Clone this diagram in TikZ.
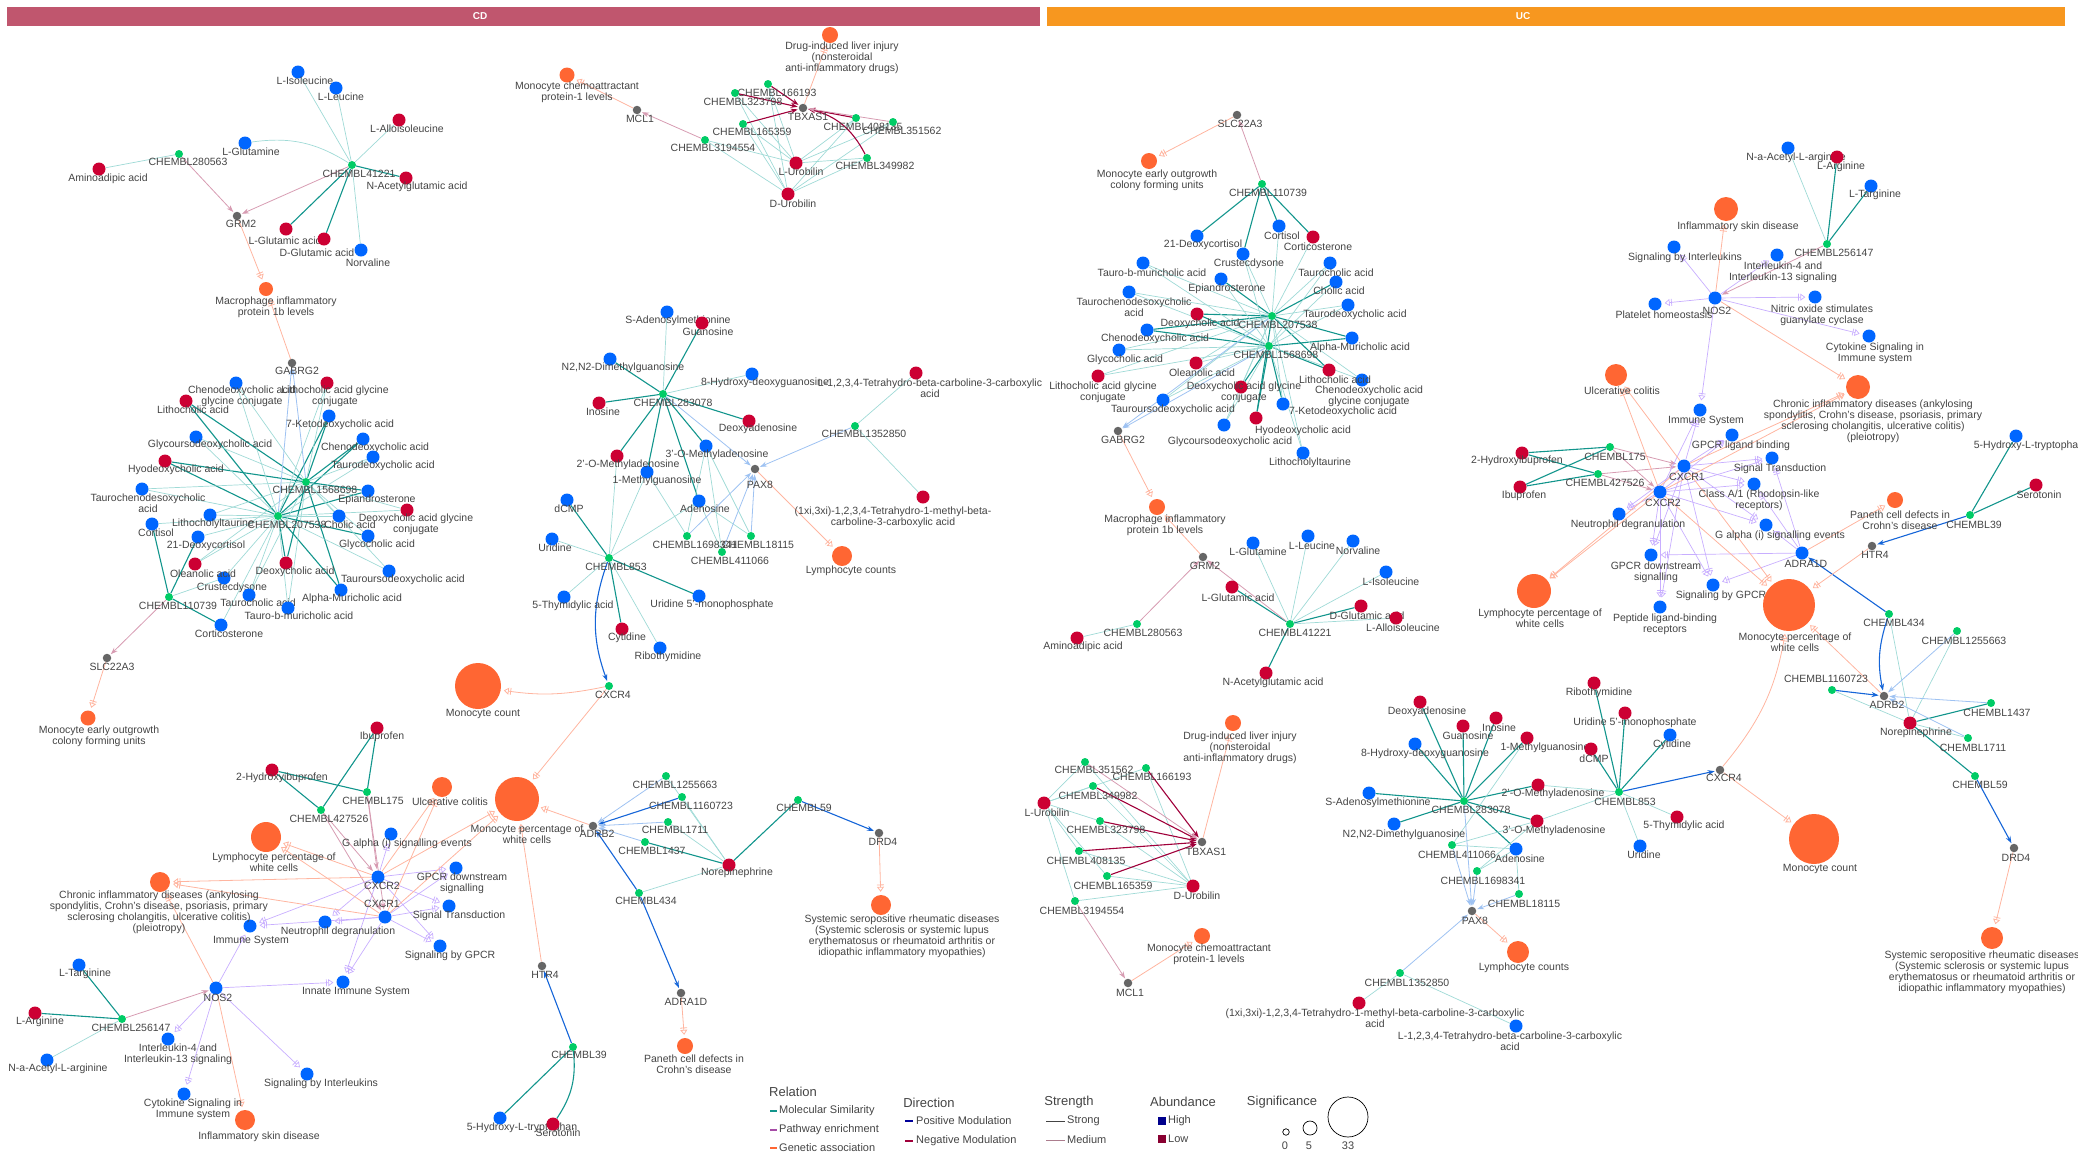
\documentclass[tikz,border=0pt]{standalone}
\usepackage{fontspec}
\setmainfont{Liberation Sans}
\usetikzlibrary{arrows.meta}
\pgfdeclarelayer{bg}
\pgfsetlayers{bg,main}

\definecolor{hiC}{HTML}{0066FF}
\definecolor{loC}{HTML}{CC0033}
\definecolor{cmpdC}{HTML}{00CC66}
\definecolor{geneC}{HTML}{666666}
\definecolor{traitC}{HTML}{FF6633}
\definecolor{txtC}{HTML}{444444}
\definecolor{cdC}{HTML}{C0566E}
\definecolor{ucC}{HTML}{F7971F}
\definecolor{simSC}{HTML}{12958C}
\definecolor{simMC}{HTML}{9FDAD6}
\definecolor{pathC}{HTML}{C8AEFF}
\definecolor{genC}{HTML}{FFB5A0}
\definecolor{posSC}{HTML}{1565D8}
\definecolor{posMC}{HTML}{9EC2F2}
\definecolor{negSC}{HTML}{A0003A}
\definecolor{negMC}{HTML}{D79CB2}

\tikzset{hi/.style={circle,fill=hiC,inner sep=0,minimum size=13pt}}
\tikzset{lo/.style={circle,fill=loC,inner sep=0,minimum size=13pt}}
\tikzset{cmpd/.style={circle,fill=cmpdC,inner sep=0,minimum size=8pt}}
\tikzset{gene/.style={circle,fill=geneC,inner sep=0,minimum size=8.5pt}}
\tikzset{trait/.style={circle,fill=traitC,inner sep=0,minimum size=#1}}
\tikzset{lbl/.style={text=txtC,font=\fontsize{10.5}{11}\selectfont,align=center,inner sep=0}}
\tikzset{hdr/.style={inner sep=0,minimum height=19pt}}
\tikzset{hdrtxt/.style={font=\bfseries\fontsize{10}{10}\selectfont,text=white,inner sep=0}}
\tikzset{sim/.style={draw=simSC,line width=1.1pt}}
\tikzset{simw/.style={draw=simMC,line width=0.7pt}}
\tikzset{pway/.style={draw=pathC,line width=0.7pt,-{Bar[width=7pt,sep=1.5pt]Triangle[open,length=5pt,width=7pt]},shorten >=3pt}}
\tikzset{gass/.style={draw=genC,line width=0.8pt,-{Bar[width=7pt,sep=1.5pt]Triangle[open,length=5pt,width=7pt]},shorten >=3pt}}
\tikzset{up/.style={draw=posSC,line width=1.1pt,-{Stealth[length=7pt,width=5pt]},shorten >=1pt}}
\tikzset{upw/.style={draw=posMC,line width=0.8pt,-{Stealth[length=7pt,width=5pt]},shorten >=1pt}}
\tikzset{dn/.style={draw=negSC,line width=1.1pt,-{Stealth[length=7pt,width=5pt]},shorten >=1pt}}
\tikzset{dnw/.style={draw=negMC,line width=0.8pt,-{Stealth[length=7pt,width=5pt]},shorten >=1pt}}
\tikzset{lgt/.style={text=txtC,font=\fontsize{13}{13}\selectfont,inner sep=0}}
\tikzset{lgi/.style={text=txtC,font=\fontsize{11}{11}\selectfont,inner sep=0,anchor=west}}

\begin{document}
\begin{tikzpicture}[x=1pt,y=-1pt]
\useasboundingbox (0,0) rectangle (2078,1157);

% panel headers
\node[hdr,fill=cdC,minimum width=1033pt] (cdbar) at (523.5,16.5) {};
\node[hdrtxt] (cdtxt) at (480,16.5) {CD};
\node[hdr,fill=ucC,minimum width=1018pt] (ucbar) at (1556,16.5) {};
\node[hdrtxt] (uctxt) at (1523,16.5) {UC};

% high abundance
\foreach \nm/\xy/\lxy/\tx in {
  cLIso/{298,72}/{305,81}/{L-Isoleucine}, cLLeu/{336,88}/{341,97}/{L-Leucine},
  cLGln/{245,143}/{251,152}/{L-Glutamine}, cNorv/{361,250}/{368,263}/{Norvaline},
  cSAM/{667,312}/{678,321}/{S-Adenosylmethionine}, cN2N2/{610,359}/{623,368}/{N2,N2-Dimethylguanosine},
  c8OH/{752,374}/{765,383}/{8-Hydroxy-deoxyguanosine}, c3OM/{706,446}/{717,455}/{3'-O-Methyladenosine},
  c1MG/{647,472}/{657,481}/{1-Methylguanosine}, cdCMP/{567,500}/{569,509}/{dCMP},
  cAden/{699,501}/{705,509}/{Adenosine}, cUri/{552,539}/{555,548}/{Uridine},
  c5TA/{564,597}/{573,606}/{5-Thymidylic acid}, cU5MP/{699,596}/{712,605}/{Uridine 5'-monophosphate},
  cRibo/{660,648}/{668,657}/{Ribothymidine},
  cChenoGly/{236,383}/{242,396}/{Chenodeoxycholic acid\\glycine conjugate},
  c7Keto/{329,416}/{340,425}/{7-Ketodeoxycholic acid}, cGlycoUrso/{196,437}/{210,445}/{Glycoursodeoxycholic acid},
  cCheno/{363,439}/{375,448}/{Chenodeoxycholic acid}, cTauroDeoxy/{373,457}/{383,466}/{Taurodeoxycholic acid},
  cTauroCheno/{142,489}/{148,503}/{Taurochenodesoxycholic\\acid}, cEpi/{368,491}/{377,500}/{Epiandrosterone},
  cLithoTaur/{210,515}/{213,524}/{Lithocholyltaurine}, cCholic/{339,516}/{350,525}/{Cholic acid},
  cCortisol/{152,524}/{156,533}/{Cortisol}, c21Deoxy/{198,537}/{206,546}/{21-Deoxycortisol},
  cGlyco/{368,536}/{377,545}/{Glycocholic acid}, cTauroUrso/{389,571}/{403,580}/{Tauroursodeoxycholic acid},
  cCrust/{224,578}/{232,588}/{Crustecdysone}, cTaurocholic/{249,595}/{258,603}/{Taurocholic acid},
  cAlpha/{341,590}/{352,599}/{Alpha-Muricholic acid}, cTauroB/{288,608}/{299,616}/{Tauro-b-muricholic acid},
  cCortico/{221,625}/{229,634}/{Corticosterone},
  cGalpha/{391,834}/{407,844}/{G alpha (i) signalling events}, cCXCR2/{378,877}/{382,886}/{CXCR2},
  cGPCRd/{456,868}/{462,883}/{GPCR downstream\\signalling}, cCXCR1/{385,917}/{382,904}/{CXCR1},
  cSigT/{449,906}/{459,916}/{Signal Transduction}, cNeut/{325,922}/{338,932}/{Neutrophil degranulation},
  cImm/{250,926}/{251,941}/{Immune System}, cSigGPCR/{440,946}/{450,956}/{Signaling by GPCR},
  cLTarg/{79,965}/{85,974}/{L-Targinine}, cNOS2/{216,988}/{218,998}/{NOS2},
  cInnate/{343,982}/{356,992}/{Innate Immune System},
  cIL4/{168,1039}/{178,1054}/{Interleukin-4 and\\Interleukin-13 signaling},
  cNAcArg/{47,1060}/{58,1069}/{N-a-Acetyl-L-arginine}, cSigIL/{307,1074}/{321,1084}/{Signaling by Interleukins},
  cCyto/{184,1094}/{193,1109}/{Cytokine Signaling in\\Immune system}, c5HT/{500,1118}/{522,1128}/{5-Hydroxy-L-tryptophan},
  uLGln/{1253,543}/{1258,552}/{L-Glutamine}, uLLeu/{1308,536}/{1312,546}/{L-Leucine},
  uNorv/{1353,541}/{1358,551}/{Norvaline}, uLIso/{1386,572}/{1391,582}/{L-Isoleucine},
  u21Deoxy/{1197,236}/{1203,245}/{21-Deoxycortisol}, uCortisol/{1279,226}/{1282,236}/{Cortisol},
  uCrust/{1243,254}/{1249,264}/{Crustecdysone}, uTauroB/{1143,263}/{1152,273}/{Tauro-b-muricholic acid},
  uTaurocholic/{1330,263}/{1336,273}/{Taurocholic acid}, uEpi/{1221,279}/{1227,289}/{Epiandrosterone},
  uCholic/{1336,282}/{1339,291}/{Cholic acid}, uTauroCheno/{1129,292}/{1134,307}/{Taurochenodesoxycholic\\acid},
  uTauroDeoxy/{1348,305}/{1355,315}/{Taurodeoxycholic acid}, uCheno/{1147,330}/{1155,339}/{Chenodeoxycholic acid},
  uAlpha/{1352,338}/{1360,348}/{Alpha-Muricholic acid}, uGlyco/{1119,350}/{1125,360}/{Glycocholic acid},
  uChenoGly/{1362,380}/{1369,396}/{Chenodeoxycholic acid\\glycine conjugate},
  uTauroUrso/{1163,400}/{1173,410}/{Tauroursodeoxycholic acid}, u7Keto/{1283,404}/{1343,412}/{7-Ketodeoxycholic acid},
  uGlycoUrso/{1224,425}/{1230,442}/{Glycoursodeoxycholic acid}, uLithoTaur/{1303,453}/{1310,463}/{Lithocholyltaurine},
  uSAM/{1369,793}/{1378,803}/{S-Adenosylmethionine}, u8OH/{1415,744}/{1425,754}/{8-Hydroxy-deoxyguanosine},
  uN2N2/{1394,824}/{1404,835}/{N2,N2-Dimethylguanosine}, uAden/{1516,849}/{1520,859}/{Adenosine},
  uLTHBC/{1516,1026}/{1510,1041}/{L-1,2,3,4-Tetrahydro-beta-carboline-3-carboxylic\\acid},
  uUri/{1640,846}/{1644,855}/{Uridine}, uCyt/{1670,735}/{1672,745}/{Cytidine},
  uImm/{1700,410}/{1706,421}/{Immune System}, uGPCRl/{1732,435}/{1741,446}/{GPCR ligand binding},
  u5HT/{2016,436}/{2029,446}/{5-Hydroxy-L-tryptophan}, uSigT/{1772,458}/{1780,469}/{Signal Transduction},
  uCXCR1/{1684,466}/{1687,477}/{CXCR1}, uClassA/{1754,484}/{1759,500}/{Class A/1 (Rhodopsin-like\\receptors)},
  uCXCR2/{1660,492}/{1663,503}/{CXCR2}, uNeut/{1619,514}/{1628,525}/{Neutrophil degranulation},
  uGalpha/{1766,525}/{1780,536}/{G alpha (i) signalling events}, uADRA1D/{1802,553}/{1806,564}/{ADRA1D},
  uGPCRd/{1651,555}/{1656,572}/{GPCR downstream\\signalling}, uSigGPCR/{1713,585}/{1721,596}/{Signaling by GPCR},
  uPeptide/{1660,607}/{1665,624}/{Peptide ligand-binding\\receptors},
  uNAcArg/{1788,148}/{1796,158}/{N-a-Acetyl-L-arginine}, uLTarg/{1871,186}/{1875,195}/{L-Targinine},
  uSigIL/{1674,247}/{1685,258}/{Signaling by Interleukins},
  uIL4/{1777,255}/{1783,272}/{Interleukin-4 and\\Interleukin-13 signaling}, uNOS2/{1715,298}/{1717,311}/{NOS2},
  uNitric/{1815,297}/{1822,315}/{Nitric oxide stimulates\\guanylate cyclase},
  uPlat/{1655,304}/{1664,315}/{Platelet homeostasis}, uCyto/{1869,336}/{1875,353}/{Cytokine Signaling in\\Immune system}}{
  \node[hi] (\nm) at (\xy) {};
  \node[lbl] (\nm-t) at (\lxy) {\tx};
}

% low abundance
\foreach \nm/\xy/\lxy/\tx in {
  cLAllo/{399,120}/{407,129}/{L-Alloisoleucine}, cAmino/{99,169}/{108,179}/{Aminoadipic acid},
  cNAc/{406,178}/{417,187}/{N-Acetylglutamic acid}, cLGlu/{286,229}/{285,241}/{L-Glutamic acid},
  cDGlu/{324,239}/{317,253}/{D-Glutamic acid}, cLUro/{796,163}/{801,172}/{L-Urobilin},
  cDUro/{788,194}/{793,204}/{D-Urobilin}, cGuan/{702,323}/{708,332}/{Guanosine},
  cLTHBC/{916,373}/{930,388}/{L-1,2,3,4-Tetrahydro-beta-carboline-3-carboxylic\\acid},
  cIno/{599,403}/{603,412}/{Inosine}, cDeoxA/{749,421}/{758,429}/{Deoxyadenosine},
  c2OM/{617,456}/{628,465}/{2'-O-Methyladenosine},
  cTHMBC/{923,497}/{893,517}/{(1xi,3xi)-1,2,3,4-Tetrahydro-1-methyl-beta-\\carboline-3-carboxylic acid},
  cCyt/{622,629}/{627,638}/{Cytidine}, cLithoGly/{327,383}/{335,396}/{Lithocholic acid glycine\\conjugate},
  cLitho/{186,401}/{193,410}/{Lithocholic acid}, cHyo/{165,461}/{176,470}/{Hyodeoxycholic acid},
  cDeoxyGly/{407,510}/{416,524}/{Deoxycholic acid glycine\\conjugate}, cOlean/{195,564}/{203,574}/{Oleanolic acid},
  cDeoxy/{286,563}/{295,572}/{Deoxycholic acid}, cIbu/{377,728}/{382,737}/{Ibuprofen},
  c2HI/{272,770}/{282,778}/{2-Hydroxyibuprofen}, cLArg/{35,1013}/{40,1022}/{L-Arginine},
  cNorepi/{729,865}/{737,873}/{Norepinephrine}, cSero/{553,1124}/{558,1133}/{Serotonin},
  uLArg/{1837,157}/{1841,167}/{L-Arginine}, uCortico/{1313,237}/{1318,247}/{Corticosterone},
  uDeoxy/{1197,314}/{1200,324}/{Deoxycholic acid}, uOlean/{1196,363}/{1202,373}/{Oleanolic acid},
  uLithoGly/{1098,376}/{1103,392}/{Lithocholic acid glycine\\conjugate}, uLitho/{1329,370}/{1335,380}/{Lithocholic acid},
  uDeoxyGly/{1241,387}/{1244,392}/{Deoxycholic acid glycine\\conjugate}, uHyo/{1256,418}/{1303,431}/{Hyodeoxycholic acid},
  u2HI/{1522,453}/{1517,461}/{2-Hydroxyibuprofen}, uIbu/{1520,487}/{1524,496}/{Ibuprofen},
  uLGlu/{1232,587}/{1238,598}/{L-Glutamic acid}, uDGlu/{1361,606}/{1367,616}/{D-Glutamic acid},
  uLAllo/{1396,618}/{1403,628}/{L-Alloisoleucine}, uAmino/{1077,638}/{1083,647}/{Aminoadipic acid},
  uNAc/{1266,673}/{1273,683}/{N-Acetylglutamic acid}, uDeoxA/{1420,702}/{1427,712}/{Deoxyadenosine},
  uIno/{1496,718}/{1499,728}/{Inosine}, uGuan/{1463,726}/{1468,736}/{Guanosine},
  u1MG/{1527,738}/{1545,748}/{1-Methylguanosine}, u2OM/{1538,785}/{1553,794}/{2'-O-Methyladenosine},
  u3OM/{1537,821}/{1554,831}/{3'-O-Methyladenosine}, uLUro/{1044,803}/{1047,813}/{L-Urobilin},
  uDUro/{1193,886}/{1197,896}/{D-Urobilin},
  uTHMBC/{1359,1003}/{1375,1018}/{(1xi,3xi)-1,2,3,4-Tetrahydro-1-methyl-beta-carboline-3-carboxylic\\acid},
  uRibo/{1594,683}/{1599,693}/{Ribothymidine}, uU5MP/{1625,713}/{1635,723}/{Uridine 5'-monophosphate},
  udCMP/{1591,749}/{1594,759}/{dCMP}, u5TA/{1677,817}/{1684,826}/{5-Thymidylic acid},
  uSero/{2036,485}/{2039,495}/{Serotonin}, uNorepi/{1910,723}/{1916,733}/{Norepinephrine}}{
  \node[lo] (\nm) at (\xy) {};
  \node[lbl] (\nm-t) at (\lxy) {\tx};
}

% compounds
\foreach \nm/\xy/\lxy/\tx in {
  cC280563/{179,154}/{188,162}/{CHEMBL280563}, cC41221/{352,165}/{359,174}/{CHEMBL41221},
  cC166193/{768,84}/{777,93}/{CHEMBL166193}, cC323798/{735,93}/{743,102}/{CHEMBL323798},
  cC165359/{743,124}/{752,132}/{CHEMBL165359}, cC408135/{856,118}/{863,127}/{CHEMBL408135},
  cC351562/{893,122}/{902,131}/{CHEMBL351562}, cC3194554/{705,140}/{713,148}/{CHEMBL3194554},
  cC349982/{867,158}/{875,166}/{CHEMBL349982}, cC283078/{663,394}/{673,403}/{CHEMBL283078},
  cC1352850/{855,426}/{864,434}/{CHEMBL1352850}, cC1698341/{687,536}/{695,545}/{CHEMBL1698341},
  cC18115/{751,536}/{758,545}/{CHEMBL18115}, cC411066/{722,552}/{730,561}/{CHEMBL411066},
  cC853/{609,558}/{616,567}/{CHEMBL853}, cCXCR4/{609,686}/{613,695}/{CXCR4},
  cC1568698/{306,482}/{315,490}/{CHEMBL1568698}, cC207538/{278,516}/{287,525}/{CHEMBL207538},
  cC110739/{169,597}/{178,606}/{CHEMBL110739}, cC175/{367,792}/{373,801}/{CHEMBL175},
  cC427526/{321,810}/{329,819}/{CHEMBL427526}, cC256147/{122,1019}/{131,1028}/{CHEMBL256147},
  cC1255663/{666,776}/{675,785}/{CHEMBL1255663}, cC1160723/{682,797}/{691,806}/{CHEMBL1160723},
  cC59/{798,800}/{804,808}/{CHEMBL59}, cC1711/{668,822}/{675,830}/{CHEMBL1711},
  cC1437/{645,842}/{652,851}/{CHEMBL1437}, cC434/{639,893}/{646,901}/{CHEMBL434},
  cC39/{573,1047}/{579,1055}/{CHEMBL39},
  uC110739/{1262,184}/{1268,193}/{CHEMBL110739}, uC207538/{1272,316}/{1278,325}/{CHEMBL207538},
  uC1568698/{1269,346}/{1276,355}/{CHEMBL1568698}, uC256147/{1827,244}/{1834,253}/{CHEMBL256147},
  uC175/{1610,447}/{1615,457}/{CHEMBL175}, uC427526/{1598,474}/{1605,483}/{CHEMBL427526},
  uC39/{1970,515}/{1974,525}/{CHEMBL39}, uC434/{1889,614}/{1894,623}/{CHEMBL434},
  uC1255663/{1957,631}/{1964,641}/{CHEMBL1255663}, uC1160723/{1832,690}/{1826,679}/{CHEMBL1160723},
  uC1437/{1991,703}/{1997,713}/{CHEMBL1437}, uC1711/{1968,738}/{1973,748}/{CHEMBL1711},
  uC59/{1975,776}/{1980,785}/{CHEMBL59}, uC280563/{1137,624}/{1143,633}/{CHEMBL280563},
  uC41221/{1290,624}/{1295,633}/{CHEMBL41221}, uC351562/{1085,762}/{1094,770}/{CHEMBL351562},
  uC166193/{1146,768}/{1152,777}/{CHEMBL166193}, uC349982/{1093,786}/{1098,796}/{CHEMBL349982},
  uC323798/{1100,821}/{1106,830}/{CHEMBL323798}, uC408135/{1079,851}/{1086,861}/{CHEMBL408135},
  uC165359/{1107,876}/{1113,886}/{CHEMBL165359}, uC3194554/{1075,901}/{1082,911}/{CHEMBL3194554},
  uC283078/{1464,801}/{1471,810}/{CHEMBL283078}, uC411066/{1452,845}/{1457,855}/{CHEMBL411066},
  uC1698341/{1477,871}/{1483,881}/{CHEMBL1698341}, uC18115/{1519,894}/{1524,904}/{CHEMBL18115},
  uC1352850/{1400,973}/{1407,983}/{CHEMBL1352850}, uC853/{1619,792}/{1625,802}/{CHEMBL853}}{
  \node[cmpd] (\nm) at (\xy) {};
  \node[lbl] (\nm-t) at (\lxy) {\tx};
}

% targets
\foreach \nm/\xy/\lxy/\tx in {
  cGRM2/{237,216}/{241,224}/{GRM2}, cGABRG2/{292,363}/{297,371}/{GABRG2},
  cMCL1/{637,110}/{640,119}/{MCL1}, cTBX/{803,108}/{808,117}/{TBXAS1},
  cPAX8/{755,469}/{760,485}/{PAX8}, cSLC/{107,658}/{112,667}/{SLC22A3},
  cADRB2/{593,826}/{597,834}/{ADRB2}, cDRD4/{879,833}/{883,842}/{DRD4},
  cHTR4/{542,966}/{545,975}/{HTR4}, cADRA1D/{681,993}/{686,1002}/{ADRA1D},
  uSLC/{1237,115}/{1240,124}/{SLC22A3}, uGABRG2/{1118,431}/{1123,440}/{GABRG2},
  uGRM2/{1203,557}/{1205,566}/{GRM2}, uTBX/{1202,842}/{1206,852}/{TBXAS1},
  uMCL1/{1128,983}/{1130,993}/{MCL1}, uPAX8/{1472,911}/{1475,921}/{PAX8},
  uCXCR4/{1720,770}/{1724,778}/{CXCR4}, uHTR4/{1872,546}/{1875,555}/{HTR4},
  uADRB2/{1884,696}/{1887,705}/{ADRB2}, uDRD4/{2014,848}/{2016,858}/{DRD4}}{
  \node[gene] (\nm) at (\xy) {};
  \node[lbl] (\nm-t) at (\lxy) {\tx};
}

% traits
\foreach \nm/\xy/\lxy/\tx/\d in {
  cMIP/{266,289}/{276,307}/{Macrophage inflammatory\\protein 1b levels}/14,
  cDILI/{830,35}/{842,58}/{Drug-induced liver injury\\(nonsteroidal\\anti-inflammatory drugs)}/16,
  cMCP/{567,75}/{577,92}/{Monocyte chemoattractant\\protein-1 levels}/15,
  cLymC/{842,556}/{851,571}/{Lymphocyte counts}/20,
  cMEO/{88,718}/{99,736}/{Monocyte early outgrowth\\colony forming units}/15,
  cMonoC/{478,686}/{483,714}/{Monocyte count}/46,
  cUC/{442,787}/{450,802}/{Ulcerative colitis}/20,
  cMonoP/{517,799}/{527,834}/{Monocyte percentage of\\white cells}/44,
  cLymP/{266,837}/{274,862}/{Lymphocyte percentage of\\white cells}/30,
  cChronic/{160,882}/{159,912}/{Chronic inflammatory diseases (ankylosing\\spondylitis, Crohn's disease, psoriasis, primary\\sclerosing cholangitis, ulcerative colitis)\\(pleiotropy)}/20,
  cISD/{245,1120}/{259,1137}/{Inflammatory skin disease}/20,
  cSys/{881,905}/{902,936}/{Systemic seropositive rheumatic diseases\\(Systemic sclerosis or systemic lupus\\erythematosus or rheumatoid arthritis or\\idiopathic inflammatory myopathies)}/20,
  cPaneth/{685,1046}/{694,1064}/{Paneth cell defects in\\Crohn's disease}/16,
  uMEO/{1149,161}/{1157,180}/{Monocyte early outgrowth\\colony forming units}/16,
  uISD/{1726,209}/{1738,227}/{Inflammatory skin disease}/24,
  uUC/{1616,375}/{1622,391}/{Ulcerative colitis}/22,
  uChronic/{1858,387}/{1873,421}/{Chronic inflammatory diseases (ankylosing\\spondylitis, Crohn's disease, psoriasis, primary\\sclerosing cholangitis, ulcerative colitis)\\(pleiotropy)}/24,
  uPaneth/{1895,500}/{1900,520}/{Paneth cell defects in\\Crohn's disease}/16,
  uMIP/{1157,507}/{1165,525}/{Macrophage inflammatory\\protein 1b levels}/16,
  uLymP/{1534,591}/{1540,618}/{Lymphocyte percentage of\\white cells}/34,
  uMonoP/{1789,605}/{1795,642}/{Monocyte percentage of\\white cells}/52,
  uDILI/{1233,723}/{1240,748}/{Drug-induced liver injury\\(nonsteroidal\\anti-inflammatory drugs)}/16,
  uMonoC/{1814,839}/{1820,869}/{Monocyte count}/50,
  uMCP/{1202,936}/{1209,954}/{Monocyte chemoattractant\\protein-1 levels}/16,
  uLymC/{1518,952}/{1524,968}/{Lymphocyte counts}/22,
  uSys/{1992,938}/{1982,972}/{Systemic seropositive rheumatic diseases\\(Systemic sclerosis or systemic lupus\\erythematosus or rheumatoid arthritis or\\idiopathic inflammatory myopathies)}/22}{
  \node[trait=\d pt] (\nm) at (\xy) {};
  \node[lbl] (\nm-t) at (\lxy) {\tx};
}

\begin{pgfonlayer}{bg}
% CD edges
\foreach \from/\to in {cC41221/cLGlu,cC41221/cDGlu,cC41221/cNAc,
  cC283078/cIno,cC283078/cGuan,cC283078/cN2N2,cC283078/c2OM,cC283078/c1MG,cC283078/cAden,cC283078/c3OM,cC283078/cDeoxA,
  cC853/cdCMP,cC853/cCyt,cC853/cU5MP,
  cC207538/cLitho,cC207538/cHyo,cC207538/c7Keto,cC207538/cCheno,cC207538/cEpi,cC207538/cDeoxy,cC207538/cAlpha,cC207538/cGlyco,
  cC1568698/cLitho,cC1568698/cHyo,cC1568698/c7Keto,cC1568698/cCheno,cC1568698/cEpi,cC1568698/cDeoxy,cC1568698/cAlpha,
  cC110739/cCortisol,cC110739/c21Deoxy,cC110739/cCortico,
  cC175/c2HI,cC175/cIbu,cC427526/c2HI,cC427526/cIbu,cC256147/cLTarg,cC256147/cLArg,
  cNorepi/cC1437,cNorepi/cC59,cC39/c5HT}
  \draw[sim] (\from) -- (\to);
\draw[sim] (cC39) to[bend left=20] (cSero);
\foreach \from/\to in {cC41221/cLIso,cC41221/cLLeu,cC41221/cLAllo,cC41221/cNorv,cC280563/cAmino,
  cLUro/cC166193,cLUro/cC323798,cLUro/cC165359,cLUro/cC408135,cLUro/cC351562,cLUro/cC349982,cLUro/cC3194554,
  cDUro/cC166193,cDUro/cC323798,cDUro/cC165359,cDUro/cC408135,cDUro/cC351562,cDUro/cC349982,cDUro/cC3194554,
  cC283078/cSAM,cC283078/c8OH,cC1352850/cLTHBC,cC1352850/cTHMBC,
  cC1698341/c1MG,cC1698341/c3OM,cC18115/c3OM,cC18115/cAden,cC411066/c3OM,cC411066/cAden,
  cC853/cUri,cC853/c5TA,cC853/cRibo,cC853/c2OM,cC853/cAden,cC853/c1MG,
  cC207538/cChenoGly,cC207538/cLithoGly,cC207538/cGlycoUrso,cC207538/cTauroDeoxy,cC207538/cTauroCheno,cC207538/cDeoxyGly,
  cC207538/cLithoTaur,cC207538/cCholic,cC207538/cCortisol,cC207538/c21Deoxy,cC207538/cOlean,cC207538/cTauroUrso,
  cC207538/cCrust,cC207538/cTaurocholic,cC207538/cTauroB,cC207538/cCortico,
  cC1568698/cChenoGly,cC1568698/cLithoGly,cC1568698/cGlycoUrso,cC1568698/cTauroDeoxy,cC1568698/cTauroCheno,
  cC1568698/cDeoxyGly,cC1568698/cLithoTaur,cC1568698/cCholic,cC1568698/cGlyco,cC1568698/cOlean,
  cC1568698/cTauroUrso,cC1568698/cTaurocholic,cC1568698/cTauroB,cC110739/cCrust,
  cC256147/cNAcArg,cNorepi/cC1255663,cNorepi/cC1160723,cNorepi/cC1711,cNorepi/cC434}
  \draw[simw] (\from) -- (\to);
\draw[simw] (cC41221) to[bend right=20] (cLGln);
\foreach \from/\to in {cC166193/cTBX,cC323798/cTBX,cC165359/cTBX,cC408135/cTBX}
  \draw[dn] (\from) -- (\to);
\draw[dn] (cC349982) to[bend right=25] (cTBX);
\foreach \from/\to in {cC280563/cGRM2,cC41221/cGRM2,cC351562/cTBX,cC3194554/cMCL1,cC110739/cSLC,
  cC175/cCXCR2,cC175/cCXCR1,cC427526/cCXCR2,cC427526/cCXCR1,cC256147/cNOS2}
  \draw[dnw] (\from) -- (\to);
\foreach \from/\to in {cC434/cADRB2,cC434/cADRA1D,cC1160723/cADRB2,cC59/cDRD4,cC39/cHTR4}
  \draw[up] (\from) -- (\to);
\draw[up] (cC853) to[bend right=20] (cCXCR4);
\foreach \from/\to in {cC283078/cPAX8,cC1352850/cPAX8,cC1698341/cPAX8,cC18115/cPAX8,cC411066/cPAX8,
  cC207538/cGABRG2,cC1568698/cGABRG2,cC1255663/cADRB2,cC1711/cADRB2,cC1437/cADRB2}
  \draw[upw] (\from) -- (\to);
\foreach \from/\to in {cCXCR2/cGalpha,cCXCR2/cGPCRd,cCXCR2/cSigT,cCXCR2/cSigGPCR,cCXCR2/cNeut,cCXCR2/cImm,cCXCR2/cInnate,
  cCXCR1/cGPCRd,cCXCR1/cSigT,cCXCR1/cSigGPCR,cCXCR1/cNeut,cCXCR1/cImm,cCXCR1/cInnate,
  cNOS2/cImm,cNOS2/cInnate,cNOS2/cIL4,cNOS2/cCyto,cNOS2/cSigIL}
  \draw[pway] (\from) -- (\to);
\foreach \from/\to in {cGRM2/cMIP,cGABRG2/cMIP,cMCL1/cMCP,cTBX/cDILI,cPAX8/cLymC,cCXCR4/cMonoP,cSLC/cMEO,
  cCXCR2/cUC,cCXCR2/cMonoP,cCXCR2/cLymP,cCXCR2/cChronic,cCXCR1/cUC,cCXCR1/cMonoP,cCXCR1/cLymP,cCXCR1/cChronic,
  cNOS2/cISD,cNOS2/cChronic,cADRB2/cMonoP,cHTR4/cMonoP,cADRA1D/cPaneth,cDRD4/cSys}
  \draw[gass] (\from) -- (\to);
\draw[gass] (cCXCR4) to[bend left=10] (cMonoC);

% UC edges
\foreach \from/\to in {uC110739/u21Deoxy,uC110739/uCortico,uC110739/uCrust,uC110739/uCortisol,
  uC207538/uDeoxy,uC207538/uCheno,uC207538/uCholic,uC207538/uAlpha,uC207538/uLitho,uC207538/uEpi,uC207538/uHyo,
  uC1568698/uDeoxy,uC1568698/uCheno,uC1568698/uAlpha,uC1568698/uLitho,uC1568698/uDeoxyGly,uC1568698/uHyo,uC1568698/u7Keto,
  uC41221/uLGlu,uC41221/uDGlu,uC41221/uNAc,
  uC283078/uDeoxA,uC283078/uGuan,uC283078/uIno,uC283078/u1MG,uC283078/u8OH,uC283078/uSAM,uC283078/uN2N2,
  uC283078/u2OM,uC283078/u3OM,uC283078/uAden,
  uC853/uRibo,uC853/uU5MP,uC853/udCMP,uC853/uCyt,uC256147/uLArg,uC256147/uLTarg,
  uC175/u2HI,uC175/uIbu,uC427526/u2HI,uC427526/uIbu,uC39/u5HT,uC39/uSero,uNorepi/uC1437,uNorepi/uC59}
  \draw[sim] (\from) -- (\to);
\foreach \from/\to in {uC207538/uTauroB,uC207538/uTaurocholic,uC207538/uTauroCheno,uC207538/uTauroDeoxy,uC207538/uGlyco,
  uC207538/uOlean,uC207538/uLithoGly,uC207538/uDeoxyGly,uC207538/uChenoGly,uC207538/uTauroUrso,uC207538/u7Keto,
  uC207538/uGlycoUrso,uC207538/uLithoTaur,uC207538/uCrust,uC207538/uCortisol,uC207538/uCortico,
  uC1568698/uTauroB,uC1568698/uTaurocholic,uC1568698/uEpi,uC1568698/uCholic,uC1568698/uTauroCheno,uC1568698/uTauroDeoxy,
  uC1568698/uGlyco,uC1568698/uOlean,uC1568698/uLithoGly,uC1568698/uChenoGly,uC1568698/uTauroUrso,
  uC1568698/uGlycoUrso,uC1568698/uLithoTaur,uC1568698/uCrust,
  uC280563/uAmino,uC41221/uLGln,uC41221/uLLeu,uC41221/uNorv,uC41221/uLIso,uC41221/uLAllo,
  uLUro/uC351562,uLUro/uC166193,uLUro/uC349982,uLUro/uC323798,uLUro/uC408135,uLUro/uC165359,uLUro/uC3194554,
  uDUro/uC351562,uDUro/uC166193,uDUro/uC349982,uDUro/uC323798,uDUro/uC408135,uDUro/uC165359,uDUro/uC3194554,
  uC411066/uAden,uC411066/u3OM,uC411066/u1MG,uC1698341/uAden,uC1698341/u3OM,uC18115/uAden,
  uC1352850/uTHMBC,uC1352850/uLTHBC,uC853/u5TA,uC853/uUri,uC853/u2OM,uC853/u3OM,uC256147/uNAcArg,
  uNorepi/uC434,uNorepi/uC1255663,uNorepi/uC1160723,uNorepi/uC1711}
  \draw[simw] (\from) -- (\to);
\foreach \from/\to in {uC166193/uTBX,uC323798/uTBX,uC408135/uTBX,uC165359/uTBX,uC349982/uTBX}
  \draw[dn] (\from) -- (\to);
\foreach \from/\to in {uC110739/uSLC,uC280563/uGRM2,uC41221/uGRM2,uC351562/uTBX,uC3194554/uMCL1,uC256147/uNOS2,
  uC175/uCXCR1,uC175/uCXCR2,uC427526/uCXCR1,uC427526/uCXCR2}
  \draw[dnw] (\from) -- (\to);
\foreach \from/\to in {uC853/uCXCR4,uC39/uHTR4,uC434/uADRA1D,uC1160723/uADRB2,uC59/uDRD4}
  \draw[up] (\from) -- (\to);
\draw[up] (uC434) to[bend right=15] (uADRB2);
\foreach \from/\to in {uC207538/uGABRG2,uC1568698/uGABRG2,uC283078/uPAX8,uC411066/uPAX8,uC1698341/uPAX8,
  uC18115/uPAX8,uC1352850/uPAX8,uC1255663/uADRB2,uC1437/uADRB2,uC1711/uADRB2}
  \draw[upw] (\from) -- (\to);
\foreach \from/\to in {uNOS2/uSigIL,uNOS2/uIL4,uNOS2/uPlat,uNOS2/uNitric,uNOS2/uCyto,uNOS2/uImm,
  uCXCR1/uImm,uCXCR1/uGPCRl,uCXCR1/uSigT,uCXCR1/uClassA,uCXCR1/uGalpha,uCXCR1/uGPCRd,uCXCR1/uSigGPCR,uCXCR1/uPeptide,uCXCR1/uNeut,
  uCXCR2/uImm,uCXCR2/uGPCRl,uCXCR2/uSigT,uCXCR2/uClassA,uCXCR2/uGalpha,uCXCR2/uNeut,uCXCR2/uGPCRd,uCXCR2/uSigGPCR,uCXCR2/uPeptide,
  uADRA1D/uGPCRd,uADRA1D/uGalpha,uADRA1D/uSigGPCR,uADRA1D/uClassA,uADRA1D/uSigT}
  \draw[pway] (\from) -- (\to);
\foreach \from/\to in {uSLC/uMEO,uGABRG2/uMIP,uGRM2/uMIP,uTBX/uDILI,uMCL1/uMCP,uPAX8/uLymC,uCXCR4/uMonoC,
  uNOS2/uISD,uNOS2/uChronic,uCXCR1/uUC,uCXCR1/uChronic,uCXCR1/uLymP,uCXCR1/uMonoP,
  uCXCR2/uUC,uCXCR2/uChronic,uCXCR2/uLymP,uCXCR2/uMonoP,
  uADRA1D/uPaneth,uHTR4/uMonoP,uADRB2/uMonoP,uDRD4/uSys}
  \draw[gass] (\from) -- (\to);
\draw[gass] (uCXCR4) to[bend right=15] (uMonoP);
\end{pgfonlayer}

% legend
\node[lgt] (lgRel) at (793,1092) {Relation};
\node[lgi] (lgSim) at (779,1111) {Molecular Similarity};
\node[lgi] (lgPw) at (779,1130) {Pathway enrichment};
\node[lgi] (lgGa) at (779,1148) {Genetic association};
\draw[simSC,line width=1.5pt] ([xshift=-9pt]lgSim.west) -- ([xshift=-2pt]lgSim.west);
\draw[violet!70,line width=1.5pt] ([xshift=-9pt]lgPw.west) -- ([xshift=-2pt]lgPw.west);
\draw[traitC,line width=1.5pt] ([xshift=-9pt]lgGa.west) -- ([xshift=-2pt]lgGa.west);
\node[lgt] (lgDir) at (929,1103) {Direction};
\node[lgi] (lgPos) at (916,1121) {Positive Modulation};
\node[lgi] (lgNeg) at (916,1141) {Negative Modulation};
\draw[blue!60!black,line width=1.5pt] ([xshift=-11pt]lgPos.west) -- ([xshift=-3pt]lgPos.west);
\draw[negSC,line width=1.5pt] ([xshift=-11pt]lgNeg.west) -- ([xshift=-3pt]lgNeg.west);
\node[lgt] (lgStr) at (1069,1102) {Strength};
\node[lgi] (lgStrong) at (1067,1121) {Strong};
\node[lgi] (lgMed) at (1067,1140) {Medium};
\draw[txtC,line width=1pt] ([xshift=-21pt]lgStrong.west) -- ([xshift=-2pt]lgStrong.west);
\draw[negMC!80!black,line width=0.6pt] ([xshift=-21pt]lgMed.west) -- ([xshift=-2pt]lgMed.west);
\node[lgt] (lgAb) at (1183,1102) {Abundance};
\node[lgi] (lgHi) at (1168,1121) {High};
\node[lgi] (lgLo) at (1168,1139) {Low};
\fill[blue!55!black] ([xshift=-10pt,yshift=-4pt]lgHi.west) rectangle ([xshift=-2pt,yshift=4pt]lgHi.west);
\fill[negSC!85!black] ([xshift=-10pt,yshift=-4pt]lgLo.west) rectangle ([xshift=-2pt,yshift=4pt]lgLo.west);
\node[lgt] (lgSig) at (1282,1102) {Significance};
\node[circle,draw=black,line width=0.7pt,inner sep=0,minimum size=6.5pt] (sg0) at (1286,1132) {};
\node[circle,draw=black,line width=0.7pt,inner sep=0,minimum size=14pt] (sg5) at (1310,1128) {};
\node[circle,draw=black,line width=0.7pt,inner sep=0,minimum size=40pt] (sg33) at (1348,1117) {};
\node[lgi,anchor=center] (sg0-t) at (1285,1146) {0};
\node[lgi,anchor=center] (sg5-t) at (1309,1146) {5};
\node[lgi,anchor=center] (sg33-t) at (1348,1146) {33};
\end{tikzpicture}
\end{document}
